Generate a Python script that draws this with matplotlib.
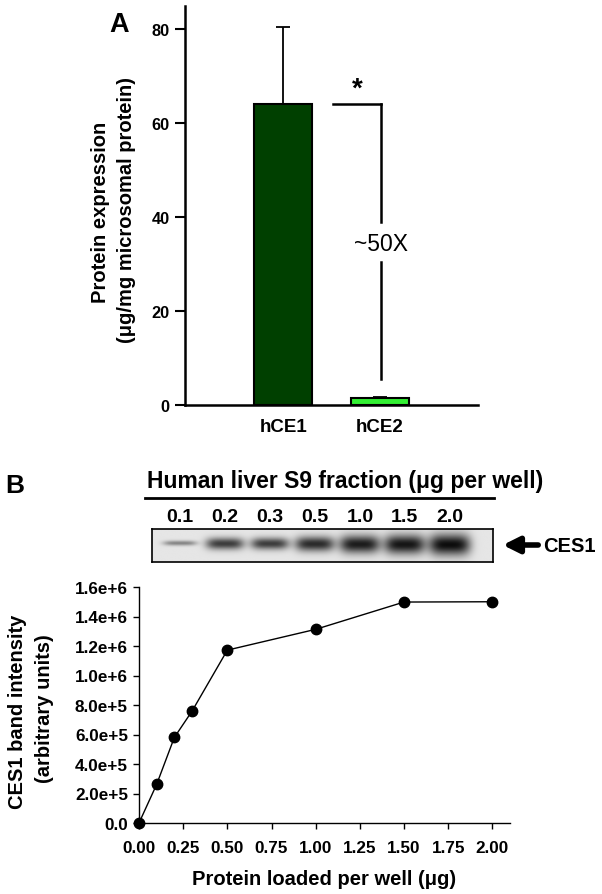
import numpy as np
import matplotlib
matplotlib.use('Agg')
import matplotlib.pyplot as plt

plt.rcParams['font.family'] = ['Liberation Sans', 'DejaVu Sans']
plt.rcParams['font.weight'] = 'bold'

# Panel A data
enzymes = ['hCE1', 'hCE2']
expression = [64.2, 1.4]
expression_err = [16.4, 0.2]
bar_colors = ['#004000', '#33f033']

# Panel B blot
lane_labels = ['0.1', '0.2', '0.3', '0.5', '1.0', '1.5', '2.0']
band_strength = [0.45, 0.78, 0.78, 0.86, 0.93, 0.96, 1.0]

# Panel B curve
protein_ug = [0.0, 0.1, 0.2, 0.3, 0.5, 1.0, 1.5, 2.0]
intensity = [0.0, 2.62e5, 5.80e5, 7.58e5, 1.172e6, 1.313e6, 1.498e6, 1.50e6]

W, H = 602, 895
fig = plt.figure(figsize=(W / 100, H / 100), dpi=100)

def fx(px):
    return px / W

def fy(py):
    return 1 - py / H

# ---------- Panel A ----------
axA = fig.add_axes([fx(185), fy(406), fx(478 - 185), (406 - 7) / H])
xpos = np.arange(len(enzymes))
axA.bar(xpos, expression, width=0.6, color=bar_colors, edgecolor='black', linewidth=1.5, zorder=2)
axA.errorbar(xpos, expression, yerr=[[0, 0], expression_err], fmt='none',
             ecolor='black', elinewidth=1.3, capsize=4.7, capthick=1.3, zorder=1)
axA.set_xlim(-1.02, 2.02)
axA.set_ylim(0, 85)
axA.set_yticks([0, 20, 40, 60, 80])
axA.set_xticks(xpos)
axA.set_xticklabels(enzymes, fontsize=13.5, fontweight='bold')
axA.tick_params(axis='x', length=0, pad=9)
axA.tick_params(axis='y', length=7, width=1.5, labelsize=11.8, pad=4)
for s in ['top', 'right']:
    axA.spines[s].set_visible(False)
for s in ['left', 'bottom']:
    axA.spines[s].set_linewidth(1.8)

# significance bracket
axA.plot([0.52, 1.016], [expression[0], expression[0]], color='black', lw=1.8)
axA.plot([1.016, 1.016], [expression[0], 39.0], color='black', lw=1.8)
axA.plot([1.016, 1.016], [30.4, 5.5], color='black', lw=1.8)
axA.text(1.016, 34.5, '~50X', ha='center', va='center', fontsize=16.5, fontweight='normal')
axA.text(0.767, 67.3, '*', ha='center', va='center', fontsize=20, fontweight='bold')

fig.text(fx(100), fy(212), 'Protein expression', rotation=90, ha='center', va='center',
         fontsize=14.5, fontweight='bold')
fig.text(fx(126), fy(210), '(\u03bcg/mg microsomal protein)', rotation=90, ha='center', va='center',
         fontsize=14.5, fontweight='bold')
fig.text(fx(119), fy(25), 'A', ha='center', va='center', fontsize=19.5, fontweight='bold')

# ---------- Panel B blot ----------
fig.text(fx(15), fy(486), 'B', ha='center', va='center', fontsize=19, fontweight='bold')
fig.text(fx(345), fy(482), 'Human liver S9 fraction (\u03bcg per well)', ha='center', va='center',
         fontsize=16.5, fontweight='bold')
fig.add_artist(plt.Line2D([fx(145), fx(494)], [fy(499), fy(499)], color='black', lw=2))

axBlot = fig.add_axes([fx(152), fy(563), fx(493 - 152), (563 - 530) / H])
nl = len(lane_labels)
xs = np.linspace(-0.62, nl - 1 + 0.96, 700)
ys = np.linspace(-1, 1, 90)
X, Y = np.meshgrid(xs, ys)
img = np.zeros_like(X)
for i, s in enumerate(band_strength):
    sx = 0.30 + 0.16 * s
    sy = 0.10 + 0.55 * s ** 3
    yc = 0.15 - 0.1 * s ** 4
    img += s * np.exp(-((X - i) / sx) ** 4 - ((Y - yc) / sy) ** 2)
img = np.clip(img, 0, 1)
gray = 0.90 - 0.85 * img
axBlot.imshow(gray, cmap='gray', vmin=0, vmax=1, aspect='auto',
              extent=(xs[0], xs[-1], -1, 1), interpolation='bilinear', origin='lower')
axBlot.set_xlim(xs[0], xs[-1])
axBlot.set_ylim(-1, 1)
axBlot.set_yticks([])
axBlot.xaxis.tick_top()
axBlot.set_xticks(range(nl))
axBlot.set_xticklabels(lane_labels, fontsize=14, fontweight='bold')
axBlot.tick_params(axis='x', length=0, pad=3)
for s in axBlot.spines.values():
    s.set_linewidth(1.2)

fig.add_artist(matplotlib.patches.FancyArrowPatch((fx(541), fy(546)), (fx(500), fy(546)),
                                                  transform=fig.transFigure, arrowstyle='-|>',
                                                  mutation_scale=24, lw=4, color='black'))
fig.text(fx(543), fy(547), 'CES1', ha='left', va='center', fontsize=14.5, fontweight='bold')

# ---------- Panel B curve ----------
axB = fig.add_axes([fx(139), fy(824), fx(510 - 139), (824 - 588) / H])
axB.plot(protein_ug, intensity, color='black', lw=1.0, marker='o', markersize=7.5,
         markerfacecolor='black', clip_on=False, zorder=3)
axB.set_xlim(0, 2.1)
axB.set_ylim(0, 1.6e6)
axB.set_xticks(np.arange(0, 2.01, 0.25))
axB.set_xticklabels(['%.2f' % v for v in np.arange(0, 2.01, 0.25)])
yt = np.arange(0, 1.61e6, 2e5)
axB.set_yticks(yt)
axB.set_yticklabels(['0.0'] + ['%.1fe+%d' % (v / 10 ** int(np.floor(np.log10(v))), int(np.floor(np.log10(v)))) for v in yt[1:]])
axB.tick_params(axis='both', length=4.5, width=1, labelsize=12.3)
axB.tick_params(axis='x', pad=8)
for s in ['top', 'right']:
    axB.spines[s].set_visible(False)
for s in ['left', 'bottom']:
    axB.spines[s].set_linewidth(1.0)
axB.set_xlabel('Protein loaded per well (\u03bcg)', fontsize=14.5, fontweight='bold', labelpad=10)

fig.text(fx(18), fy(712), 'CES1 band intensity', rotation=90, ha='center', va='center',
         fontsize=14.5, fontweight='bold')
fig.text(fx(44), fy(709), '(arbitrary units)', rotation=90, ha='center', va='center',
         fontsize=14.5, fontweight='bold')

fig.savefig('out.png', dpi=100)
